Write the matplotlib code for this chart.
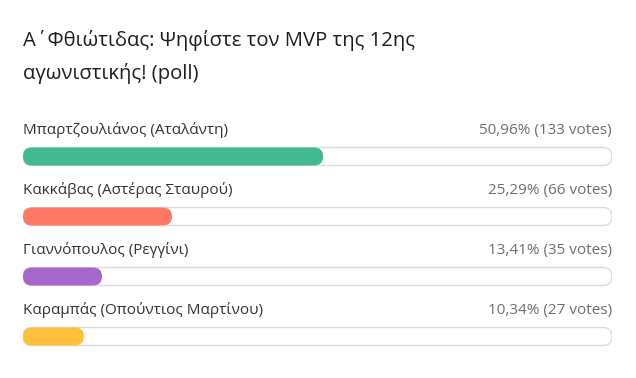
import numpy as np
import matplotlib.pyplot as plt
from matplotlib.patches import FancyBboxPatch

plt.rcParams['font.family'] = ['Open Sans', 'DejaVu Sans']

title = "Α΄Φθιώτιδας: Ψηφίστε τον MVP της 12ης\nαγωνιστικής! (poll)"
names = ["Μπαρτζουλιάνος (Αταλάντη)", "Κακκάβας (Αστέρας Σταυρού)",
         "Γιαννόπουλος (Ρεγγίνι)", "Καραμπάς (Οπούντιος Μαρτίνου)"]
percents = [50.96, 25.29, 13.41, 10.34]
votes = [133, 66, 35, 27]
colors = ['#42b993', '#ff7866', '#a667cc', '#ffbf3a']

W, H = 636, 378
fig = plt.figure(figsize=(W / 100, H / 100), dpi=100)
left, right = 23, 612
ax = fig.add_axes([left / W, 0, (right - left) / W, 1])
ax.set_xlim(0, 100)
ax.set_ylim(H, 0)
ax.axis('off')

px_per_x = (right - left) / 100.0
bar_h = 18
r = 9

fig.text(left / W, 1 - 30 / H, title, fontsize=14.6, color='#1e1e1e',
         va='top', ha='left', linespacing=1.75)

for i, (n, p, v, c) in enumerate(zip(names, percents, votes, colors)):
    top = 147.5 + i * 60
    track = FancyBboxPatch((0, top), 100, bar_h,
                           boxstyle=f"round,pad=0,rounding_size={r / px_per_x}",
                           mutation_aspect=px_per_x,
                           fc='white', ec='#dcdcdc', lw=1)
    ax.add_patch(track)
    bar = FancyBboxPatch((0, top), p, bar_h,
                         boxstyle=f"round,pad=0,rounding_size={r / px_per_x}",
                         mutation_aspect=px_per_x,
                         fc=c, ec='none')
    ax.add_patch(bar)
    ax.text(0, top - 17, n, fontsize=11, color='#333333', va='center', ha='left')
    vs = f"{p:.2f}".replace('.', ',') + f"% ({v} votes)"
    ax.text(100, top - 17, vs, fontsize=11, color='#6e6e6e', va='center', ha='right')

fig.savefig('out.png', dpi=100, facecolor='white')
